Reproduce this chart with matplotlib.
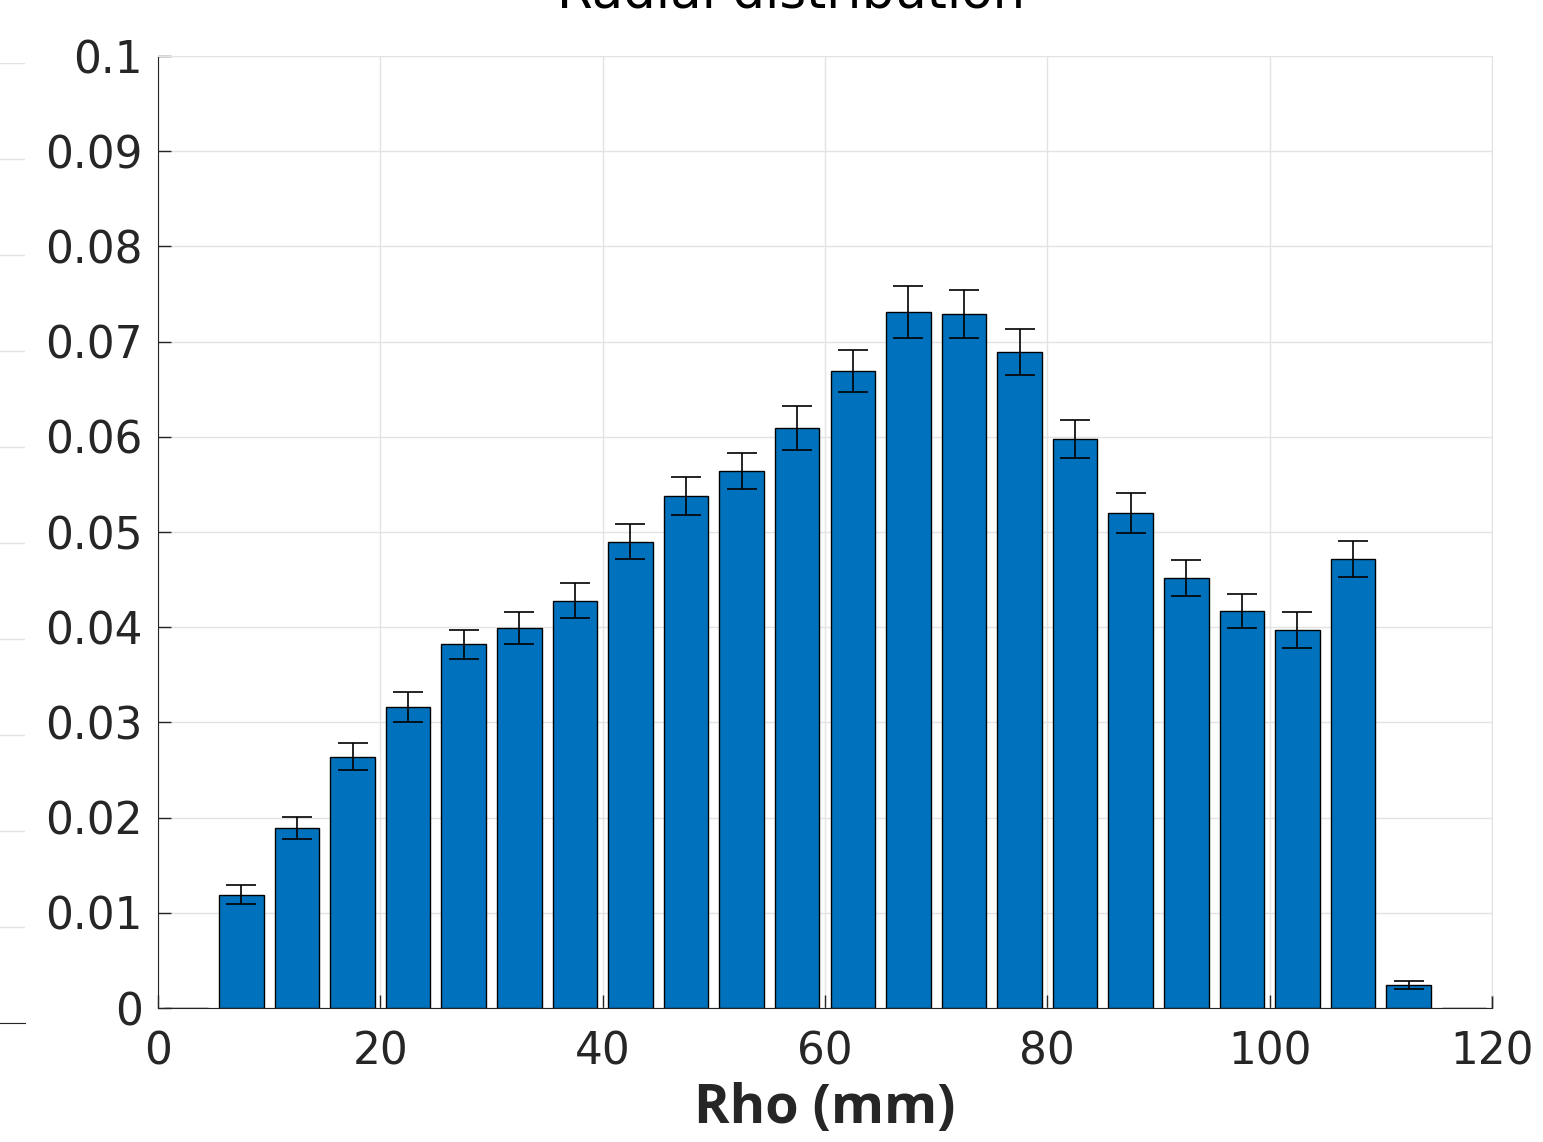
import numpy as np
import matplotlib
matplotlib.use("Agg")
import matplotlib.pyplot as plt

# bin centres (mm) and normalised counts with their errors
rho = [2.5, 7.5, 12.5, 17.5, 22.5, 27.5, 32.5, 37.5, 42.5, 47.5, 52.5, 57.5,
       62.5, 67.5, 72.5, 77.5, 82.5, 87.5, 92.5, 97.5, 102.5, 107.5, 112.5, 117.5]
freq = [0.0, 0.0119, 0.0189, 0.0264, 0.0316, 0.0382, 0.0399, 0.0428, 0.0490, 0.0538,
        0.0564, 0.0609, 0.0669, 0.0731, 0.0729, 0.0689, 0.0598, 0.0520, 0.0452,
        0.0417, 0.0397, 0.0472, 0.0024, 0.0]
err = [0.0, 0.0010, 0.0012, 0.0014, 0.0016, 0.0015, 0.0017, 0.0018, 0.0018, 0.0020,
       0.0019, 0.0023, 0.0022, 0.0027, 0.0025, 0.0024, 0.0020, 0.0021, 0.0019,
       0.0018, 0.0019, 0.0019, 0.0004, 0.0]
xticks = [0, 20, 40, 60, 80, 100, 120]
yticks = [0, 0.01, 0.02, 0.03, 0.04, 0.05, 0.06, 0.07, 0.08, 0.09, 0.1]
ylabels = ["0", "0.01", "0.02", "0.03", "0.04", "0.05", "0.06", "0.07", "0.08", "0.09", "0.1"]

W, H = 1543, 1142
fig = plt.figure(figsize=(W / 100, H / 100), dpi=100)
txt = "#262626"
gridc = "#e3e3e3"

# cut-off neighbour axes at the left edge
ax0 = fig.add_axes([-0.5, 1 - 1023 / H, 0.5 + 25 / W, (1023 - 63) / H])
ax0.set_ylim(0, 0.1)
ax0.set_yticks(yticks)
ax0.grid(axis="y", color=gridc, lw=1)
ax0.tick_params(left=False, bottom=False, labelleft=False, labelbottom=False)
for s in ["left", "top", "right"]:
    ax0.spines[s].set_visible(False)
ax0.spines["bottom"].set_color(txt)

ax = fig.add_axes([158 / W, 1 - 1008 / H, (1492 - 158) / W, (1008 - 56) / H])
ax.bar(rho, freq, width=4.0, color="#0072BD", edgecolor="black", linewidth=1, zorder=3)
ax.errorbar(rho[1:-1], freq[1:-1], yerr=err[1:-1], fmt="none", ecolor="black",
            elinewidth=1.2, capsize=11, capthick=1.2, zorder=4)

ax.set_xlim(0, 120)
ax.set_ylim(0, 0.1)
ax.set_xticks(xticks)
ax.set_yticks(yticks)
ax.set_yticklabels(ylabels)
ax.grid(True, color=gridc, lw=1, zorder=0)
ax.set_axisbelow(True)
ax.tick_params(direction="in", length=9.5, width=1, colors=txt, labelsize=31.5,
               top=False, right=False)
ax.tick_params(axis="y", pad=11)
ax.tick_params(axis="x", pad=16)
for s in ["top", "right"]:
    ax.spines[s].set_color(gridc)
for s in ["left", "bottom"]:
    ax.spines[s].set_color(txt)
ax.vlines(120, 0, 0.0013, color=txt, lw=1, zorder=5, clip_on=False)

ax.set_xlabel("Rho (mm)", family="Open Sans", fontweight="bold", fontsize=39,
              color=txt, labelpad=6)
fig.text(791 / W, 1 - 8 / H, "Radial distribution", ha="center", va="baseline",
         fontsize=37, color="black")

fig.savefig("out.png", dpi=100)
